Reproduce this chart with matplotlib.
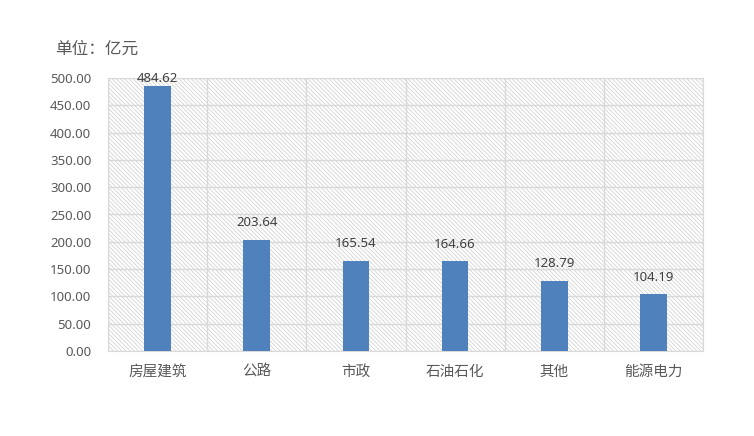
import matplotlib
matplotlib.use("Agg")
import matplotlib.pyplot as plt
from matplotlib.patches import Rectangle

categories = ["房屋建筑", "公路", "市政", "石油石化", "其他", "能源电力"]
values = [484.62, 203.64, 165.54, 164.66, 128.79, 104.19]
yticks = [0, 50, 100, 150, 200, 250, 300, 350, 400, 450, 500]

plt.rcParams["font.family"] = ["Noto Sans", "Noto Sans CJK SC", "DejaVu Sans"]
plt.rcParams["hatch.linewidth"] = 0.6

text_color = "#595959"
grid_color = "#d9d9d9"

fig = plt.figure(figsize=(7.54, 4.36), dpi=100)
ax = fig.add_axes([108 / 754, 1 - 351 / 436, (703 - 108) / 754, (351 - 78) / 436])

ax.add_patch(Rectangle((0, 0), 1, 1, transform=ax.transAxes, facecolor="white",
                       edgecolor="#d4d4d4", hatch="\\" * 8, linewidth=0, zorder=0))

x = list(range(len(categories)))
ax.bar(x, values, width=0.27, color="#4f81bd", zorder=3)
for xi, v in zip(x, values):
    # labels sit above the bar but stay inside the plot area
    ax.text(xi, min(v + 31, 499), "{:.2f}".format(v), ha="center", va="center",
            fontsize=9.5, color="#404040", zorder=4)

ax.set_xlim(-0.5, len(categories) - 0.5)
ax.set_ylim(0, 500)
ax.set_yticks(yticks)
ax.set_yticklabels(["{:.2f}".format(t) for t in yticks])
ax.set_xticks(x)
ax.set_xticklabels(categories)
ax.set_xticks([i - 0.5 for i in range(len(categories) + 1)], minor=True)

ax.grid(axis="y", which="major", color=grid_color, linewidth=1, zorder=1)
ax.grid(axis="x", which="minor", color=grid_color, linewidth=1, zorder=1)
ax.set_axisbelow(True)
ax.tick_params(axis="both", which="both", length=0, colors=text_color, labelsize=9.5)
ax.tick_params(axis="x", pad=10, labelsize=10.5)
ax.tick_params(axis="y", pad=12)
for spine in ax.spines.values():
    spine.set_color(grid_color)

fig.text(55 / 754, 1 - 50 / 436, "单位：亿元", fontsize=12, color=text_color,
         va="center", ha="left")

fig.savefig("out.png", dpi=100)
